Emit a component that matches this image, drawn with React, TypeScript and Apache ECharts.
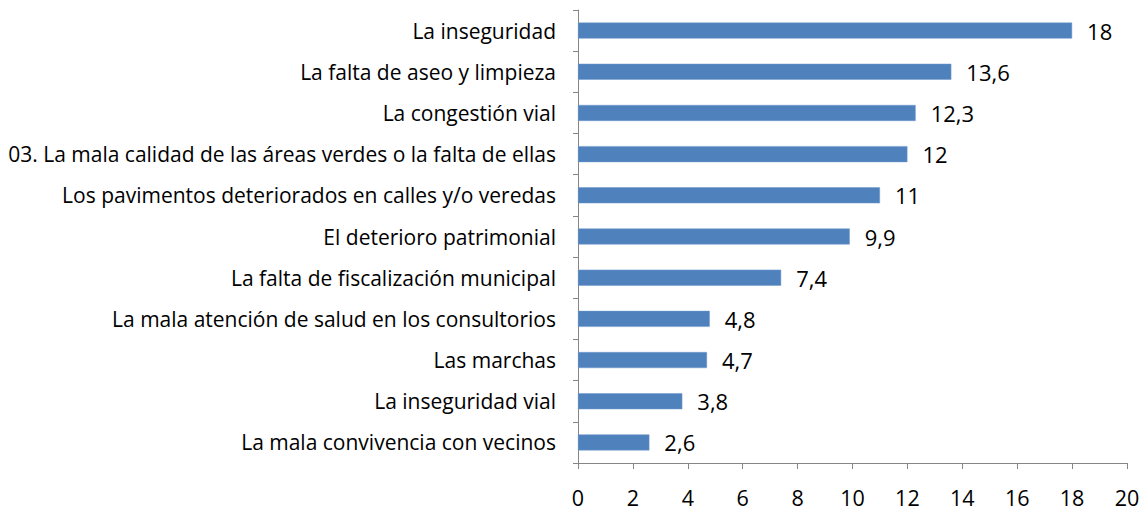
import React, { useEffect, useRef } from "react";
import * as echarts from "echarts";

const categories = [
  "La inseguridad",
  "La falta de aseo y limpieza",
  "La congestión vial",
  "03. La mala calidad de las áreas verdes o la falta de ellas",
  "Los pavimentos deteriorados en calles y/o veredas",
  "El deterioro patrimonial",
  "La falta de fiscalización municipal",
  "La mala atención de salud en los consultorios",
  "Las marchas",
  "La inseguridad vial",
  "La mala convivencia con vecinos",
];
const values = [18, 13.6, 12.3, 12, 11, 9.9, 7.4, 4.8, 4.7, 3.8, 2.6];

export default function App() {
  const ref = useRef<HTMLDivElement>(null);
  useEffect(() => {
    if (!ref.current) return;
    const chart = echarts.init(ref.current, null, { renderer: "svg" });
    const font = "'Open Sans', sans-serif";
    chart.setOption({
      animation: false,
      grid: { left: 578, right: 19, top: 10, bottom: 47, containLabel: false },
      xAxis: {
        type: "value",
        min: 0,
        max: 20,
        interval: 2,
        splitLine: { show: false },
        axisLine: { show: true, lineStyle: { color: "#868686", width: 1 } },
        axisTick: { show: true, length: 6, lineStyle: { color: "#868686" } },
        axisLabel: { color: "#000", fontSize: 21.5, lineHeight: 20, fontFamily: font, margin: 24 },
      },
      yAxis: {
        type: "category",
        data: categories.slice().reverse(),
        axisLine: { show: true, lineStyle: { color: "#868686", width: 1 } },
        axisTick: { show: true, length: 5, lineStyle: { color: "#868686" } },
        axisLabel: { color: "#000", fontSize: 21, fontFamily: font, margin: 22 },
      },
      series: [
        {
          type: "bar",
          data: values.slice().reverse(),
          barWidth: 16,
          itemStyle: { color: "#4F81BD", borderColor: "#6F98CC", borderWidth: 0.5 },
          label: {
            show: true,
            position: "right",
            distance: 15,
            color: "#000",
            fontSize: 22,
            fontFamily: font,
            formatter: (p: any) => String(p.value).replace(".", ","),
          },
        },
      ],
    });
    return () => chart.dispose();
  }, []);
  return <div ref={ref} style={{ width: 1146, height: 510, position: "absolute", left: 0, top: 0 }} />;
}
